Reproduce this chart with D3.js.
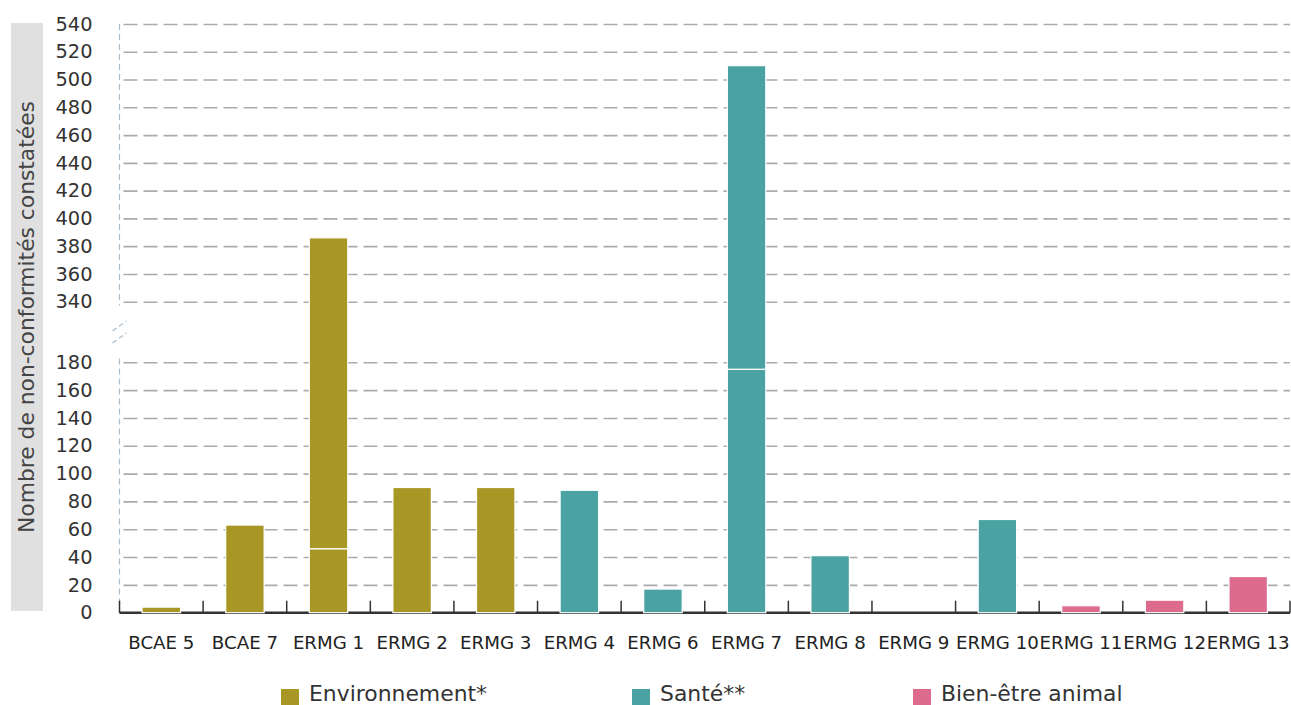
<!DOCTYPE html>
<html>
<head>
<meta charset="utf-8">
<title>Non-conformités constatées</title>
<script src="https://cdn.jsdelivr.net/npm/d3@7"></script>
<style>
  body { margin: 0; background: #fff; font-family: "DejaVu Sans", sans-serif; }
  svg { display: block; }
</style>
</head>
<body>
<div id="chart"></div>
<script>
// Data
const categories = ["BCAE 5", "BCAE 7", "ERMG 1", "ERMG 2", "ERMG 3", "ERMG 4", "ERMG 6",
  "ERMG 7", "ERMG 8", "ERMG 9", "ERMG 10", "ERMG 11", "ERMG 12", "ERMG 13"];
const values = [4, 63, 386, 90, 90, 88, 17, 510, 41, 0, 67, 5, 9, 26];
// white separator inside a bar (null = none)
const splits = [null, null, 46, null, null, null, null, 175, null, null, null, null, null, null];
const groups = ["env", "env", "env", "env", "env", "sante", "sante", "sante", "sante", "sante", "sante", "bea", "bea", "bea"];
const groupKeys = ["env", "sante", "bea"];
const groupLabels = ["Environnement*", "Santé**", "Bien-être animal"];
const lowerTicks = [0, 20, 40, 60, 80, 100, 120, 140, 160, 180];
const upperTicks = [340, 360, 380, 400, 420, 440, 460, 480, 500, 520, 540];
const yTitle = "Nombre de non-conformités constatées";

const W = 1291, H = 705;
const mLeft = 119.5, mRight = 1290, mTop = 24, mBottom = 612.7;

const svg = d3.select("#chart").append("svg").attr("width", W).attr("height", H);

const color = d3.scaleOrdinal().domain(groupKeys).range(["#a89725", "#4aa2a2", "#dc6b8e"]);

const x = d3.scaleBand().domain(categories).range([mLeft, mRight]).paddingInner(0.54).paddingOuter(0.27);
const band = d3.scaleBand().domain(categories).range([mLeft, mRight]);

// broken axis: 0-180 below, 340-540 above
const y = d3.scaleLinear().domain([0, 180, 340, 540]).range([mBottom, 362.3, 301.7, mTop]);

// y title box
svg.append("rect").attr("x", 11).attr("y", 23).attr("width", 32).attr("height", 588).attr("fill", "#e0e0e0");
svg.append("text")
  .attr("transform", `translate(26.5,${(23 + 611) / 2}) rotate(-90)`)
  .attr("text-anchor", "middle").attr("dy", "0.35em")
  .attr("font-size", "21.8px").attr("fill", "#444")
  .text(yTitle);

// gridlines
const gridTicks = lowerTicks.filter(d => d > 0).concat(upperTicks);
svg.append("g")
  .attr("transform", `translate(${mLeft},0)`)
  .call(d3.axisLeft(y).tickValues(gridTicks).tickSize(-(mRight - mLeft)).tickFormat(""))
  .call(g => g.select(".domain").remove())
  .call(g => g.selectAll("line").attr("stroke", "#ababab").attr("stroke-width", 1.6).attr("stroke-dasharray", "14,6").attr("stroke-dashoffset", -4));

// y labels
svg.append("g")
  .attr("transform", `translate(${mLeft},0)`)
  .call(d3.axisLeft(y).tickValues(lowerTicks.concat(upperTicks)).tickSize(0).tickPadding(27))
  .call(g => g.select(".domain").remove())
  .call(g => g.selectAll("text").attr("font-family", "DejaVu Sans").attr("font-size", "19.4px").attr("fill", "#333"));

// y axis dashed line with break
const axisCol = "#a9bccb";
svg.append("line").attr("x1", mLeft).attr("x2", mLeft).attr("y1", mTop).attr("y2", y(330))
  .attr("stroke", axisCol).attr("stroke-width", 1.2).attr("stroke-dasharray", "6,4");
svg.append("line").attr("x1", mLeft).attr("x2", mLeft).attr("y1", y(190)).attr("y2", mBottom)
  .attr("stroke", axisCol).attr("stroke-width", 1.2).attr("stroke-dasharray", "6,4");
[-6, 6].forEach(off => {
  svg.append("line")
    .attr("x1", mLeft - 7).attr("y1", (y(330) + y(190)) / 2 + off + 5)
    .attr("x2", mLeft + 7).attr("y2", (y(330) + y(190)) / 2 + off - 5)
    .attr("stroke", axisCol).attr("stroke-width", 1.2).attr("stroke-dasharray", "5,3");
});

// x axis
svg.append("line").attr("x1", mLeft).attr("x2", mRight).attr("y1", mBottom).attr("y2", mBottom)
  .attr("stroke", "#333").attr("stroke-width", 2.5);
svg.append("g").selectAll("line")
  .data(categories.concat(["__end"]))
  .join("line")
  .attr("x1", d => d === "__end" ? mRight : band(d))
  .attr("x2", d => d === "__end" ? mRight : band(d))
  .attr("y1", mBottom - 12).attr("y2", mBottom)
  .attr("stroke", "#333").attr("stroke-width", 1.5);

// bars (split into segments when needed)
const segs = [];
categories.forEach((c, i) => {
  const s = splits[i];
  if (s != null) {
    segs.push({ c, g: groups[i], y0: 0, y1: s });
    segs.push({ c, g: groups[i], y0: s, y1: values[i] });
  } else {
    segs.push({ c, g: groups[i], y0: 0, y1: values[i] });
  }
});
svg.append("g").selectAll("rect")
  .data(segs)
  .join("rect")
  .attr("x", d => x(d.c))
  .attr("width", x.bandwidth())
  .attr("y", d => y(d.y1))
  .attr("height", d => y(d.y0) - y(d.y1))
  .attr("fill", d => color(d.g))
  .attr("stroke", "#fff").attr("stroke-width", 1.2);

// x labels
svg.append("g")
  .attr("transform", `translate(0,${mBottom})`)
  .call(d3.axisBottom(band).tickSize(0).tickPadding(23))
  .call(g => g.select(".domain").remove())
  .call(g => g.selectAll("text").attr("font-family", "DejaVu Sans").attr("font-size", "18.2px").attr("fill", "#222"));

// legend
const legendX = [281, 632, 913];
const lg = svg.append("g").selectAll("g").data(groupKeys).join("g")
  .attr("transform", (d, i) => `translate(${legendX[i]},0)`);
lg.append("rect").attr("x", 0).attr("y", 689).attr("width", 18).attr("height", 18).attr("fill", d => color(d));
lg.append("text").attr("x", 28).attr("y", 701)
  .attr("font-size", "21.9px").attr("fill", "#333")
  .text((d, i) => groupLabels[i]);
</script>
</body>
</html>
